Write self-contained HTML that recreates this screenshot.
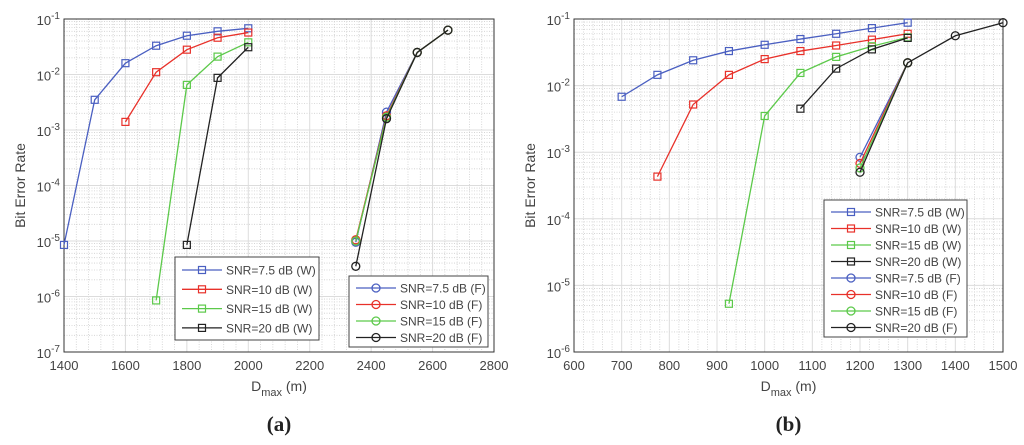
<!DOCTYPE html>
<html><head><meta charset="utf-8"><style>
html,body{margin:0;padding:0;background:#fff;width:1024px;height:445px;overflow:hidden}
svg{display:block;font-family:"Liberation Sans",sans-serif}
</style></head><body>
<svg id="s" width="1024" height="445"></svg>
<script>
const COLORS=['#4a5fc1','#e8312a','#5cc94a','#222222'];
const LABELS_W=['SNR=7.5 dB (W)','SNR=10 dB (W)','SNR=15 dB (W)','SNR=20 dB (W)'];
const LABELS_F=['SNR=7.5 dB (F)','SNR=10 dB (F)','SNR=15 dB (F)','SNR=20 dB (F)'];
// Chart (a)
const aWx=[[1400,1500,1600,1700,1800,1900,2000],[1600,1700,1800,1900,2000],[1700,1800,1900,2000],[1800,1900,2000]];
const aWy=[[8.5e-6,3.5e-3,1.6e-2,3.3e-2,5e-2,6e-2,6.8e-2],[1.4e-3,1.1e-2,2.8e-2,4.6e-2,5.7e-2],[8.5e-7,6.5e-3,2.1e-2,3.8e-2],[8.5e-6,8.7e-3,3.1e-2]];
const aFx=[[2350,2450,2550,2650],[2350,2450,2550,2650],[2350,2450,2550,2650],[2350,2450,2550,2650]];
const aFy=[[9.5e-6,2.1e-3,2.5e-2,6.3e-2],[1.05e-5,1.8e-3,2.5e-2,6.3e-2],[1e-5,1.7e-3,2.5e-2,6.3e-2],[3.5e-6,1.6e-3,2.5e-2,6.3e-2]];
const aXticks=[1400,1600,1800,2000,2200,2400,2600,2800];
// Chart (b)
const bWx=[[700,775,850,925,1000,1075,1150,1225,1300],[775,850,925,1000,1075,1150,1225,1300],[925,1000,1075,1150,1225,1300],[1075,1150,1225,1300]];
const bWy=[[6.8e-3,1.45e-2,2.4e-2,3.3e-2,4.1e-2,5e-2,6e-2,7.3e-2,8.8e-2],[4.3e-4,5.2e-3,1.45e-2,2.5e-2,3.3e-2,4e-2,4.9e-2,6e-2],[5.3e-6,3.5e-3,1.55e-2,2.7e-2,3.9e-2,5.3e-2],[4.5e-3,1.8e-2,3.5e-2,5.2e-2]];
const bFx=[[1200,1300],[1200,1300],[1200,1300],[1200,1300,1400,1500]];
const bFy=[[8.4e-4,2.2e-2],[6.8e-4,2.2e-2],[5.8e-4,2.2e-2],[5e-4,2.2e-2,5.6e-2,8.8e-2]];
const bXticks=[600,700,800,900,1000,1100,1200,1300,1400,1500];

const NS='http://www.w3.org/2000/svg';
const svg=document.getElementById('s');
function el(t,a,p){const e=document.createElementNS(NS,t);for(const k in a)e.setAttribute(k,a[k]);(p||svg).appendChild(e);return e;}

function chart(cfg){
  const g=el('g',{});
  
  
  const {L,R,T,B,xmin,xmax,emin,emax}=cfg;
  const X=v=>L+(v-xmin)/(xmax-xmin)*(R-L);
  const Y=v=>T+(emax-Math.log10(v))/(emax-emin)*(B-T);
  for(let e=emin;e<emax;e++)for(let m=2;m<=9;m++){const y=Y(m*Math.pow(10,e));
    el('line',{x1:L,x2:R,y1:y,y2:y,stroke:'#cfcfcf','stroke-width':0.8,'stroke-dasharray':'1,1.5'},g);}
  const step=cfg.xt[1]-cfg.xt[0];
  for(let v=xmin;v<xmax;v+=step)for(let k=1;k<5;k++){const x=X(v+k*step/5);
    el('line',{x1:x,x2:x,y1:T,y2:B,stroke:'#cfcfcf','stroke-width':0.8,'stroke-dasharray':'1,1.5'},g);}
  for(let e=emin;e<=emax;e++){const y=Y(Math.pow(10,e));el('line',{x1:L,x2:R,y1:y,y2:y,stroke:'#dcdcdc','stroke-width':1},g);}
  cfg.xt.forEach(v=>el('line',{x1:X(v),x2:X(v),y1:T,y2:B,stroke:'#dcdcdc','stroke-width':1},g));
  el('rect',{x:L,y:T,width:R-L,height:B-T,fill:'none',stroke:'#333','stroke-width':1},g);
  cfg.xt.forEach(v=>{const t=el('text',{x:X(v),y:B+18,'text-anchor':'middle','font-size':13,fill:'#444'},g);t.textContent=v;
    });
  for(let e=emin;e<=emax;e++){const t=el('text',{x:L-4,y:Y(Math.pow(10,e))+6,'text-anchor':'end','font-size':13,fill:'#444'},g);
    t.innerHTML='10<tspan dy="-6" font-size="10">'+e+'</tspan>';
    }
  const yl=el('text',{x:0,y:0,transform:`translate(${L-39},${(T+B)/2}) rotate(-90)`,'text-anchor':'middle','font-size':14,fill:'#444'},g);
  yl.textContent='Bit Error Rate';
  const xl=el('text',{x:(L+R)/2,y:B+39,'text-anchor':'middle','font-size':14,fill:'#444'},g);
  xl.innerHTML='D<tspan dy="5" font-size="11">max</tspan><tspan dy="-5"> (m)</tspan>';
  
  const cap=el('text',{x:(L+R)/2,y:431,'text-anchor':'middle','font-size':21,'font-weight':'bold',fill:'#222','font-family':'Liberation Serif, serif'},g);
  cap.textContent=cfg.cap;
  function series(xs,ys,i,circ){
    const pts=xs.map((x,j)=>X(x)+','+Y(ys[j])).join(' ');
    const pl=el('polyline',{points:pts,fill:'none',stroke:COLORS[i],'stroke-width':1.3},g);
    
    xs.forEach((x,j)=>{const cx=X(x),cy=Y(ys[j]);let m;
      if(circ)m=el('circle',{cx,cy,r:4,fill:'none',stroke:COLORS[i],'stroke-width':1.3},g);
      else m=el('rect',{x:cx-3.5,y:cy-3.5,width:7,height:7,fill:'none',stroke:COLORS[i],'stroke-width':1.2},g);
      });
  }
  for(let i=0;i<4;i++)series(cfg.wx[i],cfg.wy[i],i,false);
  for(let i=0;i<4;i++)series(cfg.fx[i],cfg.fy[i],i,true);
  function legend(x,y,w,h,items,sp,oy){
    const lg=el('g',{},g);
    el('rect',{x,y,width:w,height:h,fill:'#fff',stroke:'#444','stroke-width':1},lg);
    items.forEach((it,k)=>{const cy=y+oy+k*sp;
      el('line',{x1:x+7,x2:x+47,y1:cy,y2:cy,stroke:COLORS[it.c],'stroke-width':1.3},lg);
      if(it.circ)el('circle',{cx:x+27,cy,r:4,fill:'none',stroke:COLORS[it.c],'stroke-width':1.3},lg);
      else el('rect',{x:x+23.5,y:cy-3.5,width:7,height:7,fill:'none',stroke:COLORS[it.c],'stroke-width':1.2},lg);
      const t=el('text',{x:x+51,y:cy+4.5,'font-size':12,fill:'#444'},lg);t.textContent=it.t;
      });
  }
  cfg.legends.forEach(l=>legend(...l));
}
const W=LABELS_W.map((t,c)=>({t,c,circ:false})), F=LABELS_F.map((t,c)=>({t,c,circ:true}));
chart({name:'chart-a',cap:'(a)',L:64,R:494,T:19,B:352,xmin:1400,xmax:2800,emin:-7,emax:-1,xt:aXticks,
  wx:aWx,wy:aWy,fx:aFx,fy:aFy,legends:[[175,257,144,83,W,19.3,13],[349,276,139,71,F,16.5,12]]});
chart({name:'chart-b',cap:'(b)',L:574,R:1003,T:19,B:352,xmin:600,xmax:1500,emin:-6,emax:-1,xt:bXticks,
  wx:bWx,wy:bWy,fx:bFx,fy:bFy,legends:[[824,200,143,137,W.concat(F),16.5,12]]});
</script>
</body></html>
